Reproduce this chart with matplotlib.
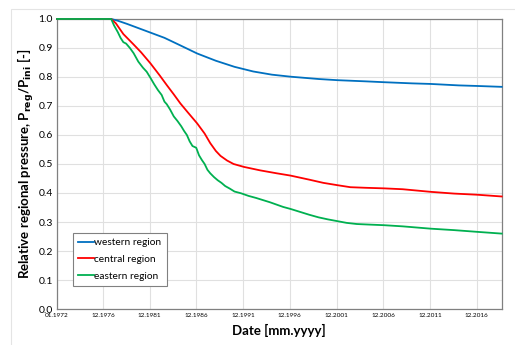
import numpy as np
import matplotlib
matplotlib.use('Agg')
from matplotlib import pyplot as plt
from matplotlib.patches import Rectangle

# x values in decimal years
tick_pos = [1972.0, 1976.92, 1981.92, 1986.92, 1991.92, 1996.92, 2001.92, 2006.92, 2011.92, 2016.92]
tick_lbl = ["01.1972", "12.1976", "12.1981", "12.1986", "12.1991", "12.1996",
            "12.2001", "12.2006", "12.2011", "12.2016"]

west_x = [1972.0, 1977.8, 1978.5, 1979.5, 1980.5, 1982.0, 1983.5, 1985.0, 1987.0,
          1989.0, 1991.0, 1993.0, 1995.0, 1997.0, 2000.0, 2002.0, 2005.0, 2007.0, 2010.0,
          2012.0, 2015.0, 2017.0, 2019.6]
west_y = [1.0, 1.0, 0.994, 0.983, 0.971, 0.953, 0.935, 0.912, 0.881,
          0.856, 0.835, 0.819, 0.808, 0.801, 0.793, 0.789, 0.785, 0.782, 0.778,
          0.776, 0.771, 0.769, 0.766]

central_x = [1972.0, 1977.8, 1978.3, 1979.1, 1980.2, 1981.0, 1982.0, 1983.0, 1983.75,
             1984.5, 1985.2, 1986.0, 1987.0, 1987.8, 1988.4, 1989.0, 1989.5, 1990.2, 1990.9,
             1992.0, 1993.75, 1995.5, 1997.0, 1999.0, 2000.5, 2002.0, 2003.4, 2005.0, 2007.0,
             2009.0, 2012.0, 2014.5, 2017.0, 2019.6]
central_y = [1.0, 1.0, 0.985, 0.948, 0.912, 0.885, 0.847, 0.805, 0.772,
             0.74, 0.709, 0.678, 0.64, 0.605, 0.572, 0.545, 0.528, 0.512, 0.500,
             0.49, 0.478, 0.468, 0.460, 0.446, 0.435, 0.427, 0.420, 0.418, 0.416,
             0.413, 0.404, 0.398, 0.394, 0.388]

east_x = [1972.0, 1977.8, 1978.1, 1978.5, 1978.8, 1979.1, 1979.4, 1979.8, 1980.2,
          1980.7, 1981.2, 1981.6, 1982.0, 1982.4, 1982.8, 1983.2, 1983.5, 1983.75, 1984.1,
          1984.5, 1984.9, 1985.3, 1985.6, 1985.9, 1986.2, 1986.5, 1986.9, 1987.2, 1987.5,
          1987.8, 1988.1, 1988.4, 1988.8, 1989.2, 1989.6, 1990.0, 1990.5, 1991.0, 1991.7,
          1992.5, 1993.3, 1994.0, 1994.8, 1995.5, 1996.2, 1997.0, 1998.0, 1999.0, 2000.0,
          2001.0, 2002.0, 2003.0, 2004.1, 2005.5, 2007.0, 2009.0, 2012.0, 2014.5, 2017.0,
          2019.6]
east_y = [1.0, 1.0, 0.978, 0.955, 0.935, 0.92, 0.915, 0.9, 0.882,
          0.853, 0.832, 0.818, 0.797, 0.775, 0.755, 0.738, 0.715, 0.706, 0.688,
          0.664, 0.648, 0.63, 0.614, 0.6, 0.578, 0.562, 0.556, 0.53, 0.514,
          0.5, 0.48, 0.468, 0.455, 0.444, 0.435, 0.424, 0.415, 0.405, 0.399,
          0.39, 0.383, 0.376, 0.368, 0.360, 0.352, 0.345, 0.335, 0.325, 0.316,
          0.309, 0.303, 0.297, 0.293, 0.291, 0.289, 0.285, 0.277, 0.272, 0.266,
          0.260]

font = ['Lato', 'DejaVu Sans']
plt.rcParams['font.family'] = font

fig = plt.figure(figsize=(5.15, 3.45), dpi=100)
ax = fig.add_axes([0.1107, 0.1043, 0.8635, 0.8407])

# faint frame of the chart area
fig.patches.append(Rectangle((11 / 515, -0.01), 1.0, 1 - 9 / 345 + 0.01,
                             transform=fig.transFigure, fill=False,
                             edgecolor='#e4e4e4', linewidth=0.8))

ax.plot(west_x, west_y, color='#0070c0', lw=1.3, label='western region', clip_on=False, zorder=3)
ax.plot(central_x, central_y, color='#ff0000', lw=1.3, label='central region', clip_on=False, zorder=4)
ax.plot(east_x, east_y, color='#00b050', lw=1.3, label='eastern region', clip_on=False, zorder=5)

ax.set_xlim(1972.0, 2019.6)
ax.set_ylim(0.0, 1.0)
ax.set_xticks(tick_pos)
ax.set_xticklabels(tick_lbl, fontsize=4.6)
ax.set_yticks(np.arange(0, 1.01, 0.1))
ax.set_yticklabels([f"{v:.1f}" for v in np.arange(0, 1.01, 0.1)], fontsize=7.5)
ax.tick_params(axis='both', length=0, pad=3)
ax.grid(True, color='#e0e0e0', lw=0.8)
ax.set_axisbelow(True)
for s in ax.spines.values():
    s.set_color('#808080')
    s.set_linewidth(0.9)
    s.set_zorder(2)

ax.set_xlabel('Date [mm.yyyy]', fontsize=9.5, fontweight='bold', labelpad=4)
ax.set_ylabel('Relative regional pressure, P$_{\\mathbf{reg}}$/P$_{\\mathbf{ini}}$ [-]',
              fontsize=9.5, fontweight='bold', labelpad=2)

leg = ax.legend(loc='lower left', bbox_to_anchor=(0.025, 0.063), fontsize=7.3,
                fancybox=False, edgecolor='#808080', framealpha=1,
                handlelength=1.6, handletextpad=0.0, borderpad=0.5, labelspacing=0.75)
leg.get_frame().set_linewidth(0.8)
leg.set_zorder(6)

fig.savefig('out.png', dpi=100)
